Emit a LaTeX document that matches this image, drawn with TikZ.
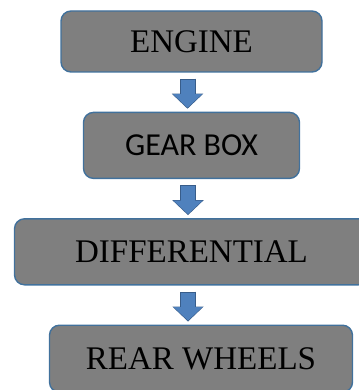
\documentclass[tikz,border=0pt]{standalone}
\usepackage{fontspec}
\setmainfont{Liberation Serif}
\newfontfamily\calibrifont{Carlito}
\usetikzlibrary{arrows.meta,positioning}
\definecolor{boxgray}{HTML}{7F7F7F}
\definecolor{boxedge}{HTML}{41719C}
\definecolor{arrowblue}{HTML}{4F81BD}
\definecolor{arrowedge}{HTML}{385D8A}

\begin{document}
\begin{tikzpicture}[
  x=1pt, y=1pt,
  node distance=39pt,
  block/.style={rectangle, rounded corners=10pt, draw=boxedge, line width=1.4pt, fill=boxgray, minimum height=66pt, inner sep=0pt, font=\fontsize{33}{40}\selectfont},
  fatarrow/.style={draw=arrowblue, line width=14pt, -{Triangle[width=29pt,length=13.5pt,line width=0pt]}, shorten <=7pt, shorten >=4pt,
    preaction={draw=arrowedge, line width=16pt, -{Triangle[width=31.5pt,length=15pt,line width=0pt]}, shorten <=6pt, shorten >=3pt}}
]
\useasboundingbox (0,0) rectangle (358,-390);
\node[block, minimum width=261pt, minimum height=61pt] (engine) at (191.5,-41.5) {ENGINE};
\node[block, below=of engine, minimum width=216pt, font=\fontsize{32}{38}\calibrifont] (gearbox) {GEAR BOX};
\node[block, below=of gearbox, minimum width=354pt] (diff) {DIFFERENTIAL};
\node[block, below=of diff, xshift=9.5pt, minimum width=303pt, minimum height=67pt] (rear) {REAR WHEELS};
\draw[fatarrow] ([xshift=-4pt]engine.south) -- ([xshift=-4pt]engine.south |- gearbox.north);
\draw[fatarrow] ([xshift=-3.5pt]gearbox.south) -- ([xshift=-3.5pt]gearbox.south |- diff.north);
\draw[fatarrow] ([xshift=-3.5pt]diff.south) -- ([xshift=-3.5pt]diff.south |- rear.north);
\end{tikzpicture}
\end{document}
